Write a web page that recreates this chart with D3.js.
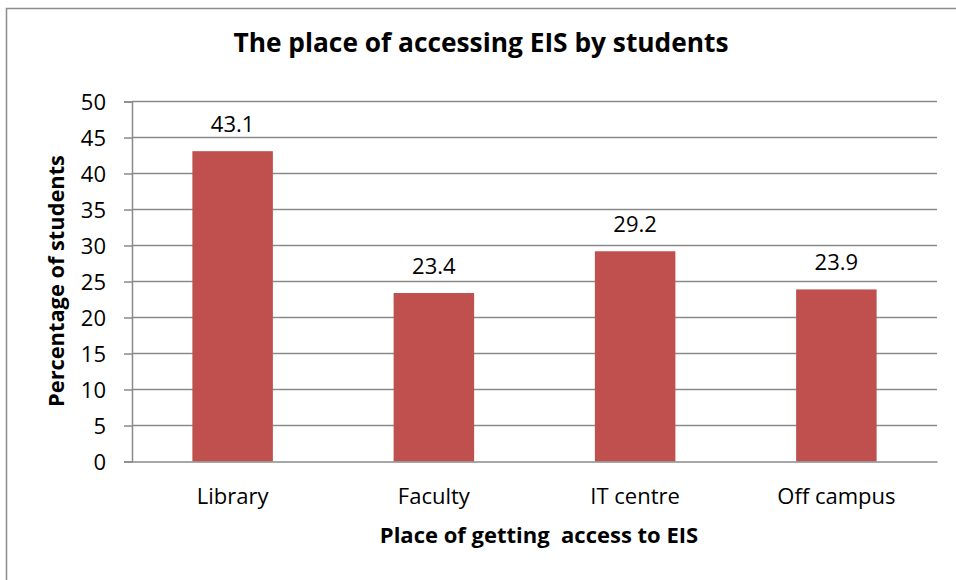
<!DOCTYPE html>
<html><head><meta charset="utf-8">
<script src="https://cdn.jsdelivr.net/npm/d3@7"></script>
<style>
html,body{margin:0;padding:0;background:#fff;}
svg{display:block;font-family:"Open Sans",sans-serif;}
</style></head>
<body>
<svg id="chart" width="956" height="580"></svg>
<script>
const categories = ["Library", "Faculty", "IT centre", "Off campus"];
const values = [43.1, 23.4, 29.2, 23.9];
const yTicks = [0, 5, 10, 15, 20, 25, 30, 35, 40, 45, 50];
const titleText = "The place of accessing EIS by students";
const xTitle = "Place of getting  access to EIS";
const yTitle = "Percentage of students";

const FONT = "'Open Sans', sans-serif";
const svg = d3.select("#chart");
const m = {left: 132, right: 956 - 937, top: 101.5, bottom: 580 - 461.5};

// outer border
svg.append("rect").attr("x", 6.5).attr("y", 8.5).attr("width", 1000).attr("height", 1000)
  .attr("fill", "none").attr("stroke", "#8c8c8c").attr("stroke-width", 1.5);

const x = d3.scaleBand().domain(categories).range([m.left, 956 - m.right])
  .paddingInner(0.6).paddingOuter(0.3);
const y = d3.scaleLinear().domain([0, 50]).range([580 - m.bottom, m.top]);

// gridlines
svg.append("g").selectAll("line").data(yTicks.filter(d => d > 0)).join("line")
  .attr("x1", m.left).attr("x2", 956 - m.right)
  .attr("y1", d => y(d)).attr("y2", d => y(d))
  .attr("stroke", "#8a8a8a").attr("stroke-width", 1.5);

// y axis
const yAxis = svg.append("g").attr("transform", `translate(${m.left},0)`)
  .call(d3.axisLeft(y).tickValues(yTicks).tickSize(8).tickPadding(18));
yAxis.select(".domain").attr("stroke", "#8a8a8a").attr("stroke-width", 1.5);
yAxis.selectAll(".tick line").attr("stroke", "#8a8a8a").attr("stroke-width", 1.5);
yAxis.selectAll(".tick text").attr("font-size", 22).attr("fill", "#000")
  .attr("font-family", FONT).attr("dy", "0.36em");

// bars
svg.append("g").selectAll("rect").data(values).join("rect")
  .attr("x", (d, i) => x(categories[i]))
  .attr("width", x.bandwidth())
  .attr("y", d => y(d))
  .attr("height", d => y(0) - y(d))
  .attr("fill", "#C0504D");

// x axis baseline
const xAxis = svg.append("g").attr("transform", `translate(0,${y(0)})`)
  .call(d3.axisBottom(x).tickSize(0));
xAxis.select(".domain").attr("stroke", "#8a8a8a").attr("stroke-width", 1.5);
xAxis.selectAll(".tick text").attr("font-size", 22).attr("fill", "#000")
  .attr("font-family", FONT).attr("y", 42.5).attr("dy", 0);

// value labels
svg.append("g").selectAll("text").data(values).join("text")
  .attr("x", (d, i) => x(categories[i]) + x.bandwidth() / 2)
  .attr("y", d => y(d) - 19)
  .attr("text-anchor", "middle").attr("font-size", 22).attr("fill", "#000")
  .text(d => d.toFixed(1));

// title
svg.append("text").attr("x", 481).attr("y", 52).attr("text-anchor", "middle")
  .attr("font-size", 26.3).attr("font-weight", "bold").text(titleText);

// x title
svg.append("text").attr("x", 539).attr("y", 543).attr("text-anchor", "middle")
  .attr("font-size", 22).attr("font-weight", "bold")
  .style("white-space", "pre").text(xTitle);

// y title
svg.append("text").attr("transform", "translate(64,281) rotate(-90)")
  .attr("text-anchor", "middle").attr("font-size", 21.8).attr("font-weight", "bold")
  .text(yTitle);
</script>
</body></html>
